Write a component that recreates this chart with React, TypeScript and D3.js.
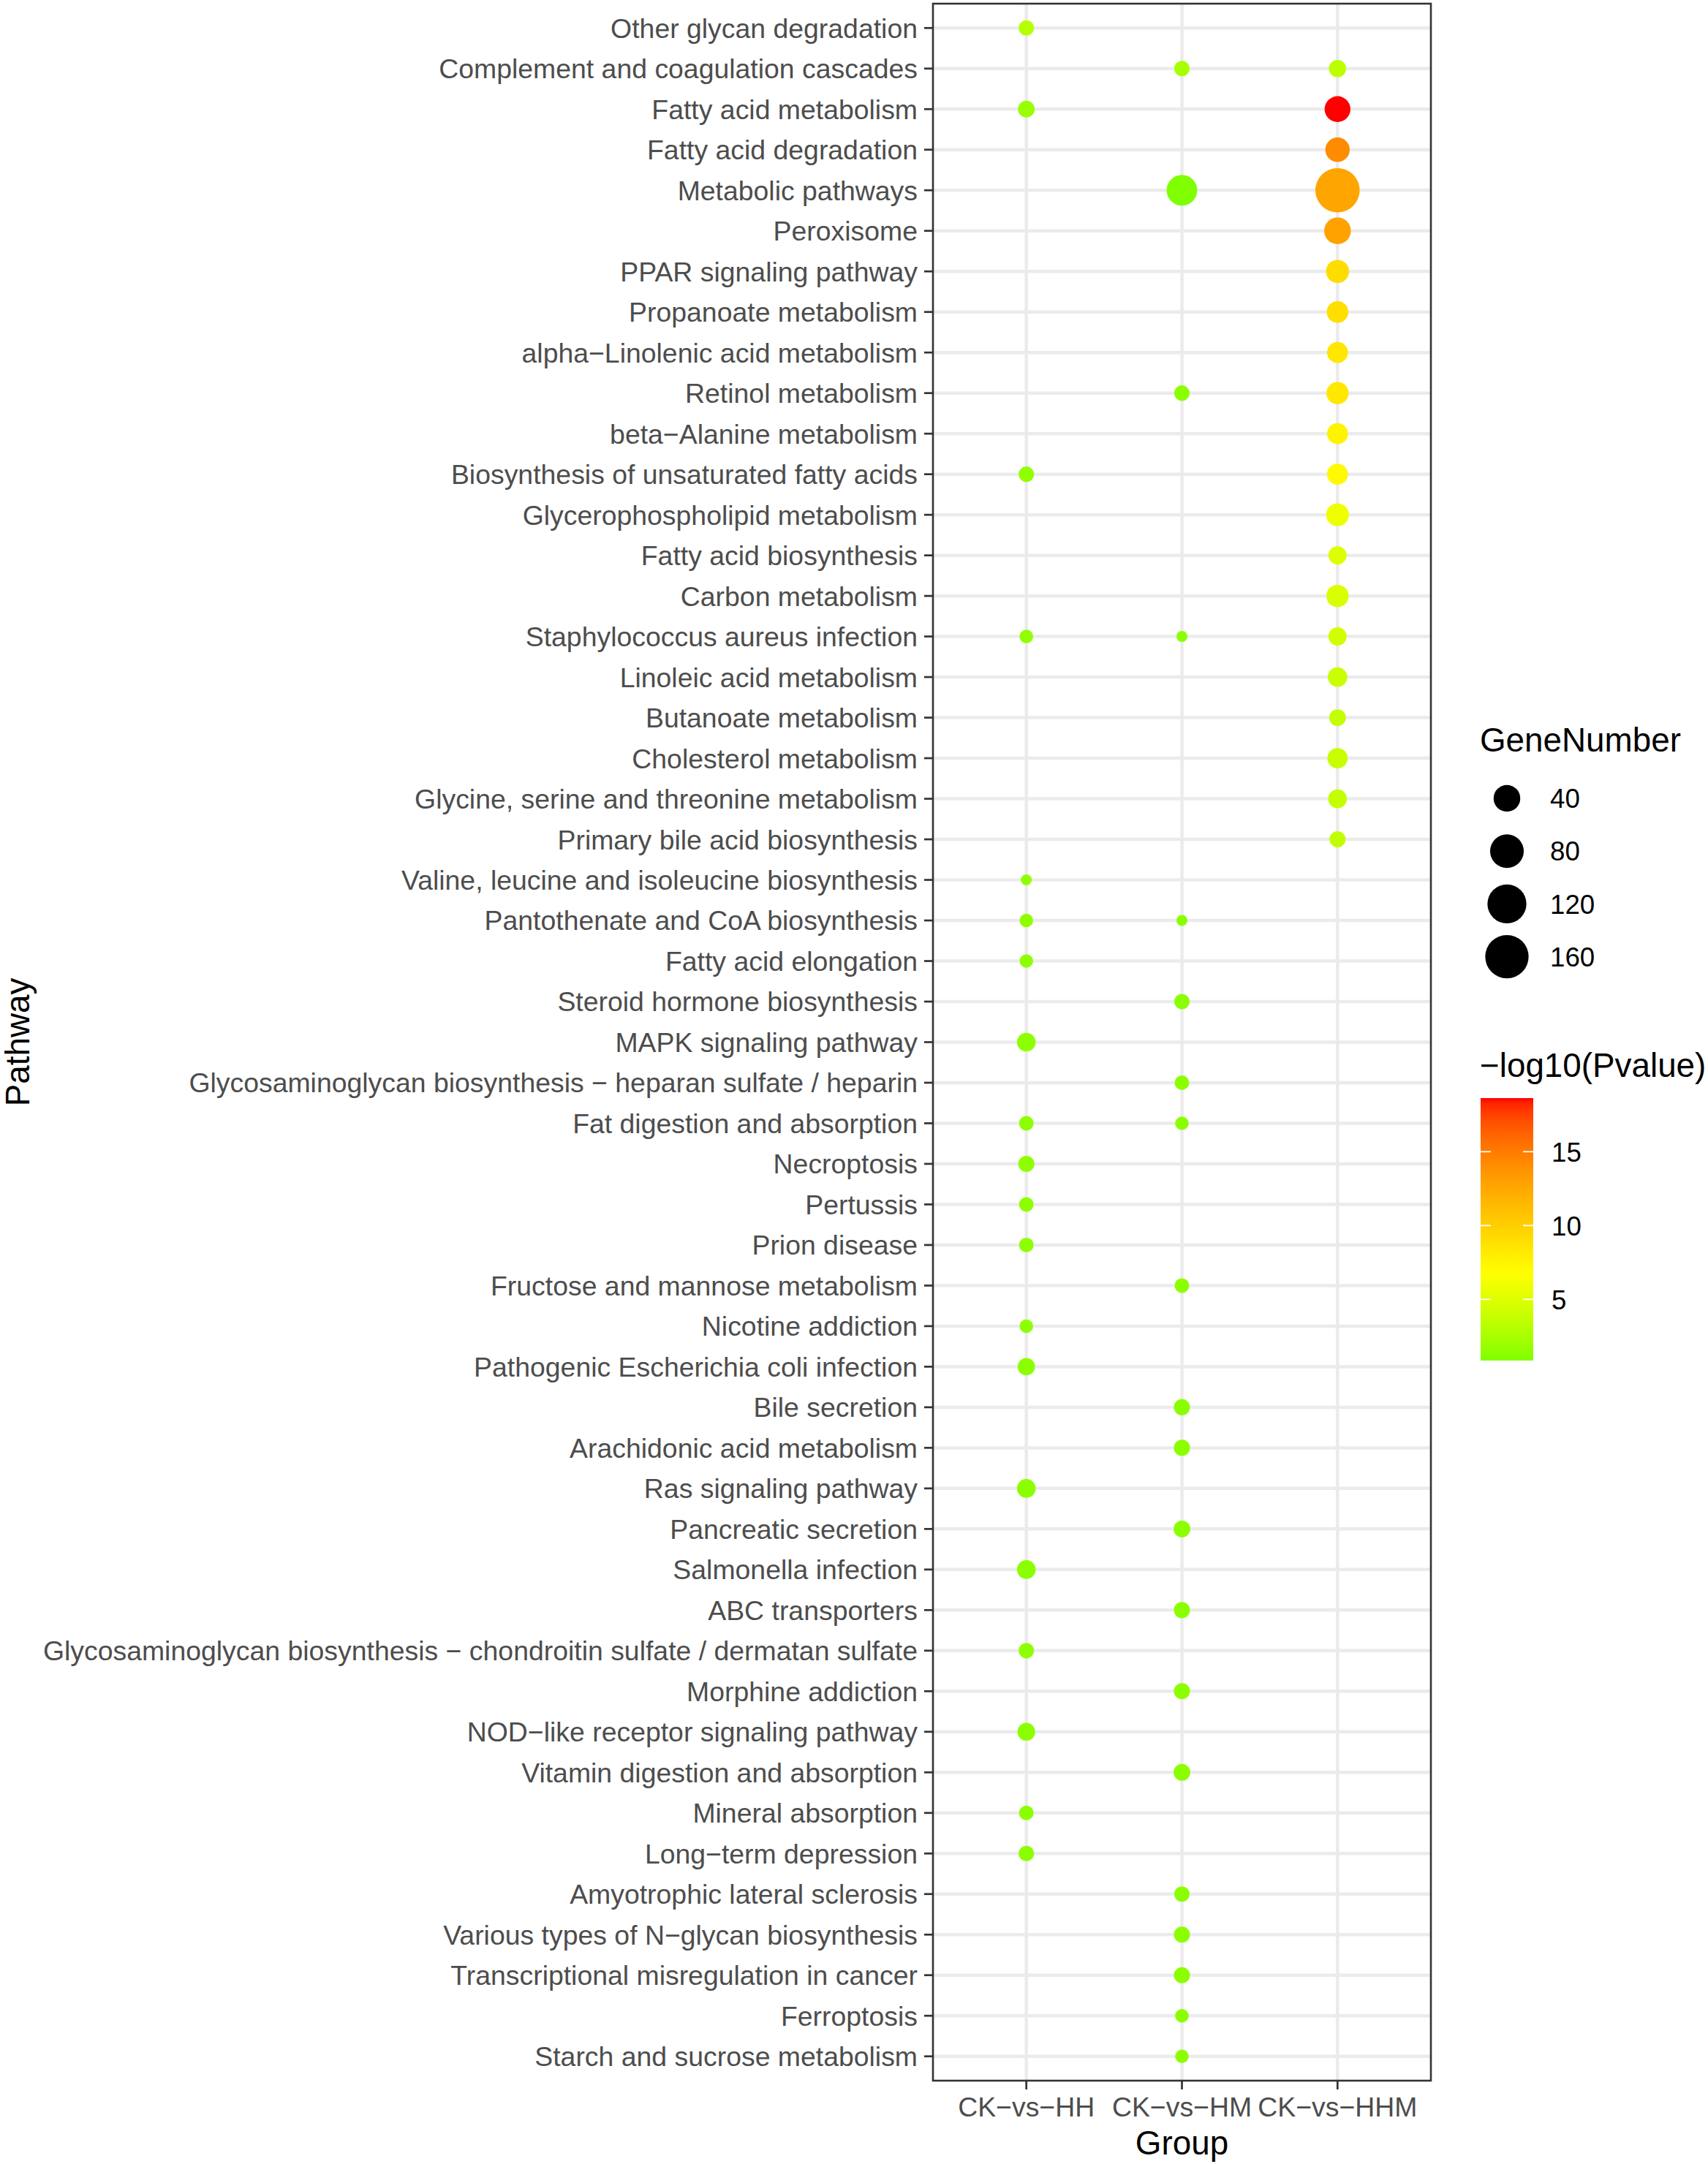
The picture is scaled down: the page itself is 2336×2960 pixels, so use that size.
import React from "react";
import * as d3 from "d3";

const pathways = [
  "Other glycan degradation",
  "Complement and coagulation cascades",
  "Fatty acid metabolism",
  "Fatty acid degradation",
  "Metabolic pathways",
  "Peroxisome",
  "PPAR signaling pathway",
  "Propanoate metabolism",
  "alpha\u2212Linolenic acid metabolism",
  "Retinol metabolism",
  "beta\u2212Alanine metabolism",
  "Biosynthesis of unsaturated fatty acids",
  "Glycerophospholipid metabolism",
  "Fatty acid biosynthesis",
  "Carbon metabolism",
  "Staphylococcus aureus infection",
  "Linoleic acid metabolism",
  "Butanoate metabolism",
  "Cholesterol metabolism",
  "Glycine, serine and threonine metabolism",
  "Primary bile acid biosynthesis",
  "Valine, leucine and isoleucine biosynthesis",
  "Pantothenate and CoA biosynthesis",
  "Fatty acid elongation",
  "Steroid hormone biosynthesis",
  "MAPK signaling pathway",
  "Glycosaminoglycan biosynthesis \u2212 heparan sulfate / heparin",
  "Fat digestion and absorption",
  "Necroptosis",
  "Pertussis",
  "Prion disease",
  "Fructose and mannose metabolism",
  "Nicotine addiction",
  "Pathogenic Escherichia coli infection",
  "Bile secretion",
  "Arachidonic acid metabolism",
  "Ras signaling pathway",
  "Pancreatic secretion",
  "Salmonella infection",
  "ABC transporters",
  "Glycosaminoglycan biosynthesis \u2212 chondroitin sulfate / dermatan sulfate",
  "Morphine addiction",
  "NOD\u2212like receptor signaling pathway",
  "Vitamin digestion and absorption",
  "Mineral absorption",
  "Long\u2212term depression",
  "Amyotrophic lateral sclerosis",
  "Various types of N\u2212glycan biosynthesis",
  "Transcriptional misregulation in cancer",
  "Ferroptosis",
  "Starch and sucrose metabolism",
];

const groups = ["CK\u2212vs\u2212HH", "CK\u2212vs\u2212HM", "CK\u2212vs\u2212HHM"];

// Gene numbers per pathway (same order as pathways), null = not enriched
const geneHH = [6, null, 8, null, null, null, null, null, null, null,
  null, 6, null, null, null, 4, null, null, null, null,
  null, 3, 4, 4, null, 12, null, 5, 7, 5,
  5, null, 4, 9, null, null, 12, null, 12, null,
  6, null, 10, null, 5, 6, null, null, null, null, null];
const geneHM = [null, 6, null, null, 61, null, null, null, null, 6,
  null, null, null, null, null, 3, null, null, null, null,
  null, null, 3, null, 6, null, 5, 4, null, null,
  null, 5, null, null, 7, 7, null, 8, null, 7,
  null, 7, null, 8, null, null, 6, 7, 7, 4, 4];
const geneHHM = [null, 9, 36, 30, 169, 40, 25, 20, 18, 22,
  18, 18, 24, 11, 22, 11, 14, 8, 16, 12,
  7, null, null, null, null, null, null, null, null, null,
  null, null, null, null, null, null, null, null, null, null,
  null, null, null, null, null, null, null, null, null, null, null];

// -log10(Pvalue) per pathway
const pHH = [3.0, null, 1.8, null, null, null, null, null, null, null,
  null, 1.5, null, null, null, 1.5, null, null, null, null,
  null, 1.5, 1.4, 1.4, null, 1.4, null, 1.4, 1.4, 1.4,
  1.4, null, 1.4, 1.3, null, null, 1.3, null, 1.3, null,
  1.4, null, 1.3, null, 1.3, 1.3, null, null, null, null, null];
const pHM = [null, 2.4, null, null, 0.86, null, null, null, null, 1.3,
  null, null, null, null, null, 1.2, null, null, null, null,
  null, null, 1.2, null, 1.3, null, 1.3, 1.3, null, null,
  null, 1.3, null, null, 1.3, 1.3, null, 1.3, null, 1.3,
  null, 1.3, null, 1.3, null, null, 1.3, 1.3, 1.3, 1.3, 1.3];
const pHHM = [null, 3.3, 18.63, 14.2, 12.7, 12.9, 9.1, 8.9, 8.4, 8.3,
  7.5, 7.1, 5.9, 5.0, 4.8, 4.4, 4.0, 3.7, 3.9, 3.7,
  3.6, null, null, null, null, null, null, null, null, null,
  null, null, null, null, null, null, null, null, null, null,
  null, null, null, null, null, null, null, null, null, null, null];

const sizeBreaks = [40, 80, 120, 160];
const colorBreaks = [5, 10, 15];
const colorStops = ["#7FFF00", "#FFFF00", "#FFA500", "#FF0000"];

const W = 2336;
const H = 2960;
const FONT = "'Liberation Sans', Arial, Helvetica, sans-serif";

type Pt = { path: string; group: string; gene: number; p: number };

export default function App() {
  const geneCols = [geneHH, geneHM, geneHHM];
  const pCols = [pHH, pHM, pHHM];
  const points: Pt[] = [];
  groups.forEach((g, gi) => {
    pathways.forEach((pw, i) => {
      const gv = geneCols[gi][i];
      const pv = pCols[gi][i];
      if (gv != null && pv != null) points.push({ path: pw, group: g, gene: gv, p: pv });
    });
  });

  const panel = { left: 1276, right: 1957, top: 5, bottom: 2846 };
  const x = d3.scalePoint<string>().domain(groups).range([panel.left, panel.right]).padding(0.6);
  const y = d3.scalePoint<string>().domain(pathways).range([panel.top, panel.bottom]).padding(0.6);

  const gExt = d3.extent(points, (d) => d.gene) as [number, number];
  const pExt = d3.extent(points, (d) => d.p) as [number, number];
  const rescale = d3.scaleLinear().domain(gExt).range([0, 1]);
  const rLin = d3.scaleLinear().domain([0, 1]).range([7.5, 30.3]);
  const r = (v: number) => rLin(Math.sqrt(Math.max(0, rescale(v))));

  const pDom = d3.range(colorStops.length).map((i) => pExt[0] + ((pExt[1] - pExt[0]) * i) / (colorStops.length - 1));
  const color = d3.scaleLinear<string>().domain(pDom).range(colorStops).interpolate(d3.interpolateLab);

  // legend
  const legX = 2024;
  const keyX = 2061;
  const keyY0 = 1092;
  const keyStep = 72.2;
  const barX = 2025, barW = 72, barTop = 1502, barBot = 1861;
  const barY = d3.scaleLinear().domain(pExt).range([barBot, barTop]);
  const gradStops = d3.range(0, 1.0001, 0.02).map((t) => ({
    t,
    c: color(pExt[0] + t * (pExt[1] - pExt[0])),
  }));

  const tickLen = 12;
  const axisFs = 37.4;

  return (
    <svg
      width={W}
      height={H}
      viewBox={`0 0 ${W} ${H}`}
      style={{ position: "absolute", left: 0, top: 0, background: "#fff" }}
      fontFamily={FONT}
    >
      <defs>
        <linearGradient id="cbar" x1="0" y1="1" x2="0" y2="0">
          {gradStops.map((s, i) => (
            <stop key={i} offset={s.t} stopColor={s.c} />
          ))}
        </linearGradient>
      </defs>
      <rect x={0} y={0} width={W} height={H} fill="#fff" />
      {/* grid */}
      {pathways.map((pw) => (
        <line key={"gy" + pw} x1={panel.left} x2={panel.right} y1={y(pw)} y2={y(pw)} stroke="#EBEBEB" strokeWidth={4.5} />
      ))}
      {groups.map((g) => (
        <line key={"gx" + g} x1={x(g)} x2={x(g)} y1={panel.top} y2={panel.bottom} stroke="#EBEBEB" strokeWidth={4.5} />
      ))}
      {/* points */}
      {points.map((d, i) => (
        <circle key={i} cx={x(d.group)} cy={y(d.path)} r={r(d.gene)} fill={color(d.p)} />
      ))}
      {/* border */}
      <rect
        x={panel.left}
        y={panel.top}
        width={panel.right - panel.left}
        height={panel.bottom - panel.top}
        fill="none"
        stroke="#333333"
        strokeWidth={2.6}
      />
      {/* y axis */}
      {pathways.map((pw) => (
        <g key={"ya" + pw}>
          <line x1={panel.left - tickLen} x2={panel.left} y1={y(pw)} y2={y(pw)} stroke="#333333" strokeWidth={2.7} />
          <text x={panel.left - tickLen - 9} y={y(pw)} dy="0.36em" textAnchor="end" fontSize={axisFs} fill="#4D4D4D">
            {pw}
          </text>
        </g>
      ))}
      {/* x axis */}
      {groups.map((g) => (
        <g key={"xa" + g}>
          <line x1={x(g)} x2={x(g)} y1={panel.bottom} y2={panel.bottom + tickLen} stroke="#333333" strokeWidth={2.7} />
          <text x={x(g)} y={2895} textAnchor="middle" fontSize={axisFs} fill="#4D4D4D">
            {g}
          </text>
        </g>
      ))}
      <text x={(panel.left + panel.right) / 2} y={2947} textAnchor="middle" fontSize={45.8} fill="#000">
        Group
      </text>
      <text
        transform={`translate(40, ${(panel.top + panel.bottom) / 2}) rotate(-90)`}
        textAnchor="middle"
        fontSize={45.8}
        fill="#000"
      >
        Pathway
      </text>
      {/* size legend */}
      <text x={legX} y={1028} fontSize={45.8} fill="#000">
        GeneNumber
      </text>
      {sizeBreaks.map((b, i) => (
        <g key={"sk" + b}>
          <circle cx={keyX} cy={keyY0 + i * keyStep} r={r(b)} fill="#000" />
          <text x={2120} y={keyY0 + i * keyStep} dy="0.36em" fontSize={36.7} fill="#000">
            {b}
          </text>
        </g>
      ))}
      {/* color legend */}
      <text x={legX} y={1473} fontSize={45.8} fill="#000">
        {"\u2212log10(Pvalue)"}
      </text>
      <rect x={barX} y={barTop} width={barW} height={barBot - barTop} fill="url(#cbar)" />
      {colorBreaks.map((b) => (
        <g key={"cb" + b}>
          <line x1={barX} x2={barX + 14} y1={barY(b)} y2={barY(b)} stroke="#fff" strokeWidth={1.8} />
          <line x1={barX + barW - 14} x2={barX + barW} y1={barY(b)} y2={barY(b)} stroke="#fff" strokeWidth={1.8} />
          <text x={2122} y={barY(b)} dy="0.36em" fontSize={36.7} fill="#000">
            {b}
          </text>
        </g>
      ))}
    </svg>
  );
}
